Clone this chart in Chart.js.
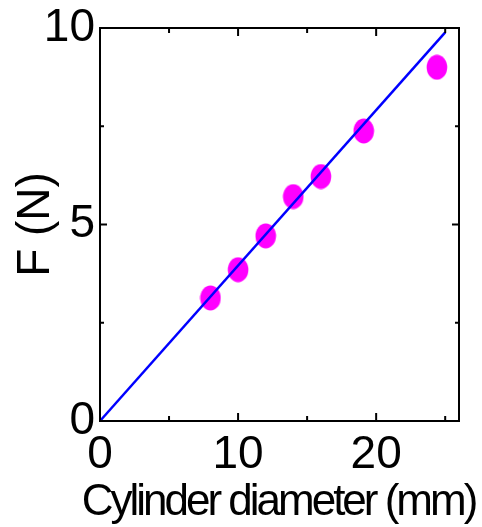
<!DOCTYPE html>
<html lang="en">
<head>
    <meta charset="UTF-8">
    <title>F vs cylinder diameter</title>
    <script src="https://cdn.jsdelivr.net/npm/chart.js"></script>
    <style>
        body { margin: 0; background: #fff; }
        #wrap { width: 482px; height: 527px; }
    </style>
</head>
<body>
    <div id="wrap"><canvas id="chart" width="482" height="527"></canvas></div>

    <script>
        // measured points
        var diameter = [8, 10, 12, 14, 16, 19.1, 24.4];
        var force = [3.13, 3.85, 4.71, 5.71, 6.22, 7.38, 9.0];

        // fitted line
        var fitX = [0, 25];
        var fitY = [0, 9.89];

        var xTicks = [0, 10, 20];
        var yTicks = [0, 5, 10];
        var xMinorTicks = [5, 15, 25];
        var yMinorTicks = [2.5, 7.5];

        var xTitle = 'Cylinder diameter (mm)';
        var yTitle = 'F (N)';

        var fontFamily = '"Liberation Sans", Arial, sans-serif';

        // ellipse marker
        var dot = document.createElement('canvas');
        dot.width = 22;
        dot.height = 26;
        var dctx = dot.getContext('2d');
        dctx.fillStyle = '#ff00ff';
        dctx.beginPath();
        dctx.ellipse(11, 13, 10.3, 12.5, 0, 0, Math.PI * 2);
        dctx.fill();

        // box + inward ticks on all four sides, and the squeezed x title
        var framePlugin = {
            id: 'frame',
            afterDraw: function (chart) {
                var ctx = chart.ctx;
                var a = chart.chartArea;
                var xs = chart.scales.x, ys = chart.scales.y;
                ctx.save();
                ctx.strokeStyle = '#000';
                ctx.lineWidth = 2;
                ctx.strokeRect(a.left, a.top, a.right - a.left, a.bottom - a.top);
                function xTick(v, len) {
                    var px = xs.getPixelForValue(v);
                    ctx.beginPath();
                    ctx.moveTo(px, a.bottom); ctx.lineTo(px, a.bottom - len);
                    ctx.moveTo(px, a.top); ctx.lineTo(px, a.top + len);
                    ctx.stroke();
                }
                function yTick(v, len) {
                    var py = ys.getPixelForValue(v);
                    ctx.beginPath();
                    ctx.moveTo(a.left, py); ctx.lineTo(a.left + len, py);
                    ctx.moveTo(a.right, py); ctx.lineTo(a.right - len, py);
                    ctx.stroke();
                }
                xTicks.forEach(function (v) { xTick(v, 8); });
                xMinorTicks.forEach(function (v) { xTick(v, 5); });
                yTicks.forEach(function (v) { yTick(v, 7); });
                yMinorTicks.forEach(function (v) { yTick(v, 4); });

                // x title is wider than the axis, chart.js would squeeze it
                ctx.letterSpacing = '-3px';
                ctx.font = '44px ' + fontFamily;
                ctx.fillStyle = '#000';
                ctx.textAlign = 'center';
                ctx.textBaseline = 'alphabetic';
                ctx.fillText(xTitle, (xs.left + xs.right) / 2 - 1, 515);
                ctx.restore();
            }
        };

        var points = diameter.map(function (d, i) { return { x: d, y: force[i] }; });
        var fit = fitX.map(function (d, i) { return { x: d, y: fitY[i] }; });

        new Chart(document.getElementById('chart'), {
            type: 'scatter',
            data: {
                datasets: [{
                    label: 'fit',
                    type: 'line',
                    data: fit,
                    borderColor: '#0000ff',
                    borderWidth: 2.5,
                    pointRadius: 0,
                    fill: false,
                    order: 0,
                    clip: false
                }, {
                    label: 'F',
                    data: points,
                    pointStyle: dot,
                    pointRadius: 12,
                    order: 1
                }]
            },
            options: {
                responsive: false,
                animation: false,
                layout: { padding: { top: 25, right: 23, left: 0, bottom: 0 } },
                plugins: { legend: { display: false }, tooltip: { enabled: false } },
                scales: {
                    x: {
                        type: 'linear',
                        min: 0,
                        max: 26,
                        afterBuildTicks: function (s) { s.ticks = xTicks.map(function (v) { return { value: v }; }); },
                        afterFit: function (s) { s.height = 106; },
                        grid: { display: false, drawTicks: false },
                        border: { display: false },
                        ticks: { color: '#000', padding: 11, maxRotation: 0, autoSkip: false,
                                 font: { family: fontFamily, size: 46, lineHeight: 1 } },
                        title: { display: false }
                    },
                    y: {
                        type: 'linear',
                        min: 0,
                        max: 10,
                        afterBuildTicks: function (s) { s.ticks = yTicks.map(function (v) { return { value: v }; }); },
                        afterFit: function (s) { s.width = 100; },
                        grid: { display: false, drawTicks: false },
                        border: { display: false },
                        ticks: { color: '#000', padding: 5, autoSkip: false,
                                 font: { family: fontFamily, size: 46, lineHeight: 1 } },
                        title: { display: true, text: yTitle, color: '#000',
                                 padding: { top: 13, bottom: 0 },
                                 font: { family: fontFamily, size: 46, lineHeight: 1 } }
                    }
                }
            },
            plugins: [framePlugin]
        });
    </script>
</body>
</html>
